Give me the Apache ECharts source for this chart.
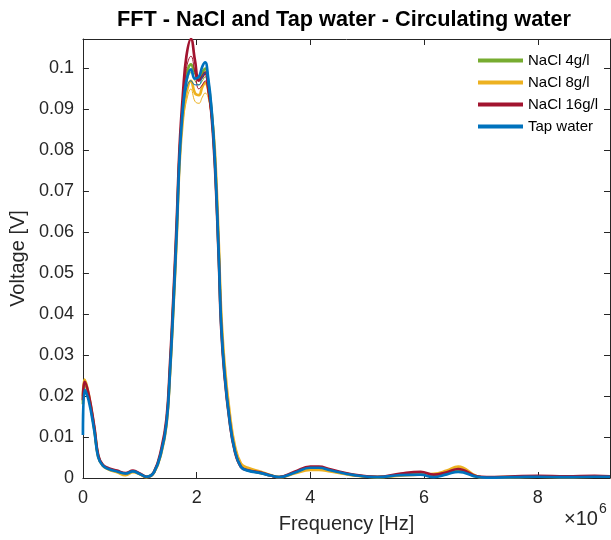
<!DOCTYPE html>
<html>
<head>
<meta charset="utf-8">
<script src="https://cdn.jsdelivr.net/npm/echarts@6/dist/echarts.min.js"></script>
<style>html,body{margin:0;padding:0;background:#fff;}#c{width:611px;height:540px;}</style>
</head>
<body>
<div id="c"></div>
<script>
// Frequency grid [Hz]
var freq = [0, 0.03e6, 0.1e6, 0.2e6, 0.27e6, 0.35e6, 0.45e6, 0.6e6, 0.75e6, 0.88e6, 1.0e6, 1.12e6, 1.25e6, 1.38e6, 1.47e6, 1.53e6, 1.59e6, 1.65e6, 1.70e6, 1.76e6, 1.82e6, 1.9e6, 1.97e6, 2.04e6, 2.1e6, 2.15e6, 2.2e6, 2.26e6, 2.32e6, 2.39e6, 2.43e6, 2.49e6, 2.58e6, 2.67e6, 2.78e6, 2.9e6, 3.13e6, 3.3e6, 3.45e6, 3.72e6, 4.0e6, 4.15e6, 4.35e6, 4.77e6, 5.18e6, 5.59e6, 5.94e6, 6.17e6, 6.4e6, 6.6e6, 6.93e6, 7.1e6, 7.6e6, 8.0e6, 8.5e6, 9.0e6, 9.27e6];

var nacl4 = [0.018, 0.023, 0.02, 0.012, 0.0052, 0.0031, 0.0022, 0.0016, 0.001, 0.0016, 0.001, 0.0003, 0.0014, 0.0066, 0.0136, 0.026, 0.0425, 0.061, 0.079, 0.091, 0.098, 0.101, 0.099, 0.0975, 0.099, 0.1, 0.097, 0.09, 0.078, 0.0545, 0.0385, 0.026, 0.0143, 0.0069, 0.0028, 0.0019, 0.0012, 0.0006, 0.0002, 0.0013, 0.0024, 0.0024, 0.0018, 0.0007, 0.0002, 0.0008, 0.001, 0.0006, 0.0013, 0.002, 0.0003, 0.0001, 0.0003, 0.0004, 0.0003, 0.0004, 0.0003];
var nacl8 = [0.02, 0.024, 0.0205, 0.012, 0.0052, 0.003, 0.0021, 0.0014, 0.0007, 0.0014, 0.0009, 0.0002, 0.0013, 0.0062, 0.013, 0.025, 0.041, 0.059, 0.077, 0.088, 0.094, 0.097, 0.094, 0.0935, 0.0955, 0.0965, 0.095, 0.0895, 0.08, 0.057, 0.041, 0.028, 0.016, 0.008, 0.0035, 0.0025, 0.0015, 0.0007, 0.0002, 0.0011, 0.002, 0.002, 0.0016, 0.0006, 0.0002, 0.0006, 0.0009, 0.001, 0.0018, 0.0028, 0.0004, 0.0001, 0.0002, 0.0003, 0.0002, 0.0003, 0.0003];
var nacl16 = [0.019, 0.0235, 0.0205, 0.0125, 0.0055, 0.0032, 0.0024, 0.0018, 0.0012, 0.0018, 0.0011, 0.0003, 0.0015, 0.0072, 0.0145, 0.0275, 0.044, 0.063, 0.081, 0.094, 0.103, 0.1072, 0.102, 0.097, 0.098, 0.099, 0.096, 0.089, 0.0765, 0.053, 0.037, 0.025, 0.0138, 0.0066, 0.0027, 0.0019, 0.0013, 0.0006, 0.0002, 0.0015, 0.0028, 0.0028, 0.0021, 0.0008, 0.0003, 0.0011, 0.0015, 0.0008, 0.0014, 0.0022, 0.0004, 0.0002, 0.0004, 0.0005, 0.0004, 0.0005, 0.0004];
var tapWater = [0.0105, 0.0215, 0.019, 0.0115, 0.005, 0.003, 0.0022, 0.0016, 0.0011, 0.0016, 0.001, 0.0003, 0.0014, 0.0065, 0.0134, 0.0256, 0.0418, 0.0605, 0.0784, 0.0905, 0.097, 0.0998, 0.0975, 0.098, 0.1005, 0.1015, 0.098, 0.0905, 0.078, 0.054, 0.038, 0.0256, 0.0141, 0.0068, 0.0027, 0.0018, 0.0012, 0.0006, 0.0002, 0.0013, 0.0025, 0.0025, 0.0019, 0.0007, 0.0002, 0.0007, 0.0008, 0.0002, 0.0009, 0.0015, 0.0003, 0.0001, 0.0002, 0.0003, 0.0002, 0.0003, 0.0003];

// Lower traces of each bundle around the main peak
var peakFreq = [1.76e6, 1.82e6, 1.9e6, 1.97e6, 2.04e6, 2.1e6, 2.15e6, 2.2e6, 2.26e6];
var nacl4Low = [0.09, 0.096, 0.099, 0.097, 0.096, 0.097, 0.098, 0.096, 0.089];
var nacl8Low = [0.087, 0.092, 0.095, 0.092, 0.0915, 0.093, 0.094, 0.093, 0.088];
var nacl16Low = [0.091, 0.1, 0.103, 0.099, 0.095, 0.096, 0.097, 0.094, 0.088];
var tapWaterLow = [0.089, 0.095, 0.097, 0.096, 0.096, 0.098, 0.099, 0.096, 0.089];

var names = ['NaCl 4g/l', 'NaCl 8g/l', 'NaCl 16g/l', 'Tap water'];
var colors = ['#77AC30', '#EDB120', '#A2142F', '#0072BD'];
var xTicks = [0, 2e6, 4e6, 6e6, 8e6];
var yTicks = [0, 0.01, 0.02, 0.03, 0.04, 0.05, 0.06, 0.07, 0.08, 0.09, 0.1];

var FONT = '"Liberation Sans", Arial, Helvetica, sans-serif';
var AXC = '#262626';

function pairs(xs, ys) { return xs.map(function (x, i) { return [x, ys[i]]; }); }

var mains = [nacl4, nacl8, nacl16, tapWater];
var lows = [nacl4Low, nacl8Low, nacl16Low, tapWaterLow];
var series = [];
for (var i = 0; i < 4; i++) {
  series.push({
    name: names[i], type: 'line', data: pairs(peakFreq, lows[i]),
    showSymbol: false, smooth: 0.45,
    lineStyle: { color: colors[i], width: 1 }, itemStyle: { color: colors[i] },
    silent: true, z: 2 + i * 2
  });
  series.push({
    name: names[i], type: 'line', data: pairs(freq, mains[i]),
    showSymbol: false, smooth: 0.45,
    lineStyle: { color: colors[i], width: 2.7 }, itemStyle: { color: colors[i] },
    z: 3 + i * 2
  });
}

function xFmt(v) {
  var m = v / 1e6;
  return Math.abs(m - Math.round(m)) < 1e-6 ? String(Math.round(m)) : '';
}
function yFmt(v) {
  var c = v * 100;
  return Math.abs(c - Math.round(c)) < 1e-6 ? String(+v.toFixed(2)) : '';
}

var chart = echarts.init(document.getElementById('c'), null, { renderer: 'canvas' });
var axisCommon = {
  axisLine: { show: true, onZero: false, lineStyle: { color: AXC, width: 1 } },
  axisTick: { show: true, inside: true, length: 6, lineStyle: { color: AXC, width: 1 } },
  splitLine: { show: false }
};
chart.setOption({
  backgroundColor: '#fff',
  animation: false,
  title: {
    text: 'FFT - NaCl and Tap water - Circulating water',
    left: 339, top: 4, textAlign: 'center',
    textStyle: { fontFamily: FONT, fontWeight: 'bold', fontSize: 21.7, color: '#000' }
  },
  legend: {
    data: names.map(function (n, i) { return { name: n, itemStyle: { color: colors[i] } }; }),
    orient: 'vertical', left: 478, top: 53, padding: 0,
    icon: 'rect', itemWidth: 45, itemHeight: 4, itemGap: 7,
    textStyle: { fontFamily: FONT, fontSize: 15, color: '#000', padding: [0, 0, 0, 0] }
  },
  grid: { left: 81, right: 1, top: 39, bottom: 62 },
  xAxis: [
    Object.assign({
      type: 'value', position: 'bottom', min: 0, max: 9.27e6, interval: 2e6,
      name: 'Frequency [Hz]', nameLocation: 'middle', nameGap: 36,
      nameTextStyle: { fontFamily: FONT, fontSize: 20, color: AXC },
      axisLabel: { formatter: xFmt, margin: 11, fontFamily: FONT, fontSize: 18, color: AXC, showMaxLabel: false }
    }, axisCommon),
    Object.assign({
      type: 'value', position: 'top', min: 0, max: 9.27e6, interval: 2e6,
      axisLabel: { show: false }
    }, axisCommon)
  ],
  yAxis: [
    Object.assign({
      type: 'value', position: 'left', min: 0, max: 0.1072, interval: 0.01,
      name: 'Voltage [V]', nameLocation: 'middle', nameGap: 49,
      nameTextStyle: { fontFamily: FONT, fontSize: 20, color: AXC },
      axisLabel: { formatter: yFmt, margin: 9, fontFamily: FONT, fontSize: 18, color: AXC, showMaxLabel: false }
    }, axisCommon),
    Object.assign({
      type: 'value', position: 'right', min: 0, max: 0.1072, interval: 0.01,
      axisLabel: { show: false }
    }, axisCommon)
  ],
  graphic: [
    { type: 'text', left: 564, top: 509, style: { text: '×10', fontFamily: FONT, fontSize: 20, fill: AXC } },
    { type: 'text', left: 599, top: 502, style: { text: '6', fontFamily: FONT, fontSize: 14, fill: AXC } }
  ],
  series: series
});
</script>
</body>
</html>
